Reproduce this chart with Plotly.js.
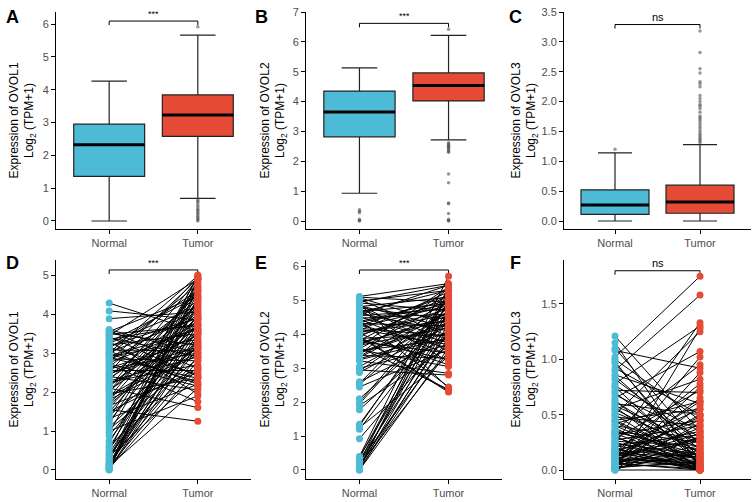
<!DOCTYPE html>
<html>
<head>
<meta charset="utf-8">
<script src="https://cdn.plot.ly/plotly-3.0.1.min.js"></script>
<style>html,body{margin:0;padding:0;background:#fff}#chart{width:753px;height:502px}</style>
</head>
<body>
<div id="chart"></div>
<script>
// ---------- data ----------
const categories = ["Normal", "Tumor"];
const genes = ["OVOL1", "OVOL2", "OVOL3"];
const panelLetters = ["A", "B", "C", "D", "E", "F"];
const sigLabels = ["***", "***", "ns"];

// box statistics [Normal, Tumor]
const boxQ1 = [[1.36, 2.58], [2.82, 4.02], [0.11, 0.13]];
const boxMedian = [[2.32, 3.23], [3.65, 4.54], [0.27, 0.32]];
const boxQ3 = [[2.95, 3.84], [4.35, 4.96], [0.52, 0.60]];
const boxLower = [[0.0, 0.69], [0.93, 2.72], [0.0, 0.0]];
const boxUpper = [[4.26, 5.66], [5.13, 6.22], [1.14, 1.28]];

// outliers
const outNormalA = [];
const outTumorA = [5.92, 0.65, 0.60, 0.55, 0.48, 0.42, 0.36, 0.32, 0.27, 0.22, 0.17, 0.12, 0.08, 0.04, 0.0];
const outNormalB = [0.38, 0.33, 0.28, 0.06, 0.02, 0.0];
const outTumorB = [6.42, 2.62, 2.58, 2.54, 2.50, 2.46, 2.42, 2.38, 2.33, 2.30, 1.57, 1.28, 0.60, 0.58, 0.25, 0.06, 0.02, 0.0];
const outNormalC = [1.20];
const outTumorC = [3.18, 2.82, 2.55, 2.48, 2.33, 2.30, 2.25, 2.10, 2.05, 2.00, 1.95, 1.92, 1.88, 1.82, 1.76, 1.73, 1.70, 1.66, 1.62, 1.58, 1.54, 1.50, 1.46, 1.43, 1.40, 1.37, 1.34, 1.31];

// paired data
const normD = [4.28,4.08,3.88,3.58,3.55,3.50,3.45,3.40,3.35,3.30,3.25,3.20,3.15,3.12,3.08,3.02,2.98,2.95,2.90,2.85,2.80,2.75,2.70,2.65,2.60,2.55,2.50,2.45,2.40,2.35,2.30,2.25,2.20,2.15,2.10,2.05,2.00,1.95,1.90,1.85,1.80,1.72,1.65,1.55,1.48,1.40,1.32,1.25,1.18,1.05,0.88,0.70,0.62,0.55,0.48,0.42,0.35,0.30,0.25,0.20,0.16,0.12,0.10,0.08,0.06,0.04,0.02,0.00,1.00,2.72,3.00,2.10,1.60,2.48,
  3.60,3.42,3.28,3.18,3.05,2.92,2.78,2.62,2.42,2.28,2.18,2.02,1.88,1.78,1.68,1.50,1.35,1.10,0.95,0.75,0.58,0.40,0.28,0.18,0.14,0.09,0.05,0.01,3.48,2.88];
const tumD  = [3.55,3.85,4.05,2.60,4.45,3.20,4.90,2.90,3.75,1.95,4.20,3.50,2.45,4.60,3.05,3.90,2.25,4.75,3.35,2.80,4.15,3.65,1.75,4.35,3.00,2.55,4.95,3.45,2.05,3.80,4.50,2.70,3.10,4.00,1.60,3.55,4.25,2.35,3.25,4.65,2.95,3.70,2.50,1.25,4.10,3.15,2.20,3.95,4.80,2.85,3.60,4.40,2.65,3.30,5.00,4.00,2.40,3.85,4.55,2.90,3.40,4.70,2.10,3.75,4.30,2.60,3.50,4.85,1.90,2.15,4.98,4.90,3.95,3.15,
  3.00,2.40,4.45,3.90,2.20,3.60,4.90,3.30,4.10,2.90,3.70,4.60,3.00,4.30,3.50,2.60,4.70,3.20,4.95,3.90,4.20,3.10,4.90,3.60,4.40,2.80,4.65,3.25,3.70,2.35];

const normE = [5.12,5.08,5.03,4.98,4.93,4.88,4.82,4.78,4.72,4.68,4.62,4.58,4.52,4.48,4.42,4.38,4.32,4.28,4.22,4.18,4.12,4.08,4.02,3.98,3.92,3.88,3.82,3.78,3.72,3.68,3.62,3.58,3.52,3.48,3.42,3.38,3.32,3.28,3.22,3.05,3.00,2.95,2.88,2.60,2.52,2.45,2.10,2.00,1.90,1.78,1.35,1.25,1.20,0.92,0.40,0.35,0.30,0.25,0.20,0.15,0.10,0.06,0.03,0.00,
  5.10,4.95,4.85,4.75,4.65,4.55,4.45,4.35,4.25,4.15,4.05,3.95,3.85,3.75,3.65,3.55,3.45,3.35,3.25,2.92,2.55,1.95,1.30,0.38,0.22,0.12,0.05,0.00,4.90,3.95];
const tumE  = [5.50,4.30,3.95,5.30,4.70,3.50,5.10,4.45,3.20,4.90,4.10,5.45,3.75,4.60,2.45,5.00,4.25,3.60,4.85,3.95,5.25,4.40,3.10,4.75,2.30,4.00,5.15,3.45,4.55,4.20,2.38,4.95,3.85,4.35,5.35,3.30,4.65,4.05,2.85,4.50,3.70,2.80,4.25,3.90,4.80,3.55,4.40,5.05,3.65,4.15,4.90,3.35,4.60,4.00,5.72,5.20,4.30,3.80,4.70,3.50,5.00,4.50,3.90,4.20,
  4.95,5.45,4.20,3.85,5.30,4.75,3.40,4.90,5.15,3.70,4.60,5.00,3.25,4.45,5.40,3.05,4.30,4.85,3.90,4.70,5.25,4.85,5.10,4.80,5.40,4.10,5.30,3.60,2.42,2.33];

const normF = [1.21,1.15,1.08,1.02,1.00,0.96,0.90,0.86,0.82,0.78,0.75,0.72,0.68,0.65,0.62,0.60,0.57,0.55,0.52,0.50,0.48,0.45,0.42,0.40,0.38,0.36,0.34,0.32,0.30,0.28,0.26,0.24,0.22,0.20,0.19,0.18,0.16,0.15,0.14,0.13,0.12,0.11,0.10,0.09,0.08,0.07,0.06,0.05,0.04,0.03,0.02,0.01,0.00,0.00,0.02,0.05,0.08,0.10,0.17,0.25,0.35,0.44,0.58,0.70,0.85,0.98,
  0.12,0.02,0.06,0.15,0.30,0.22,0.40,0.50,0.08,0.00,0.03,0.18,0.27,0.11,0.55,0.63,0.35,0.45,0.20,0.01,0.09,0.14,0.33,0.06,0.24,0.76,0.92,1.10,0.04,0.16];
const tumF  = [0.35,0.02,0.92,1.75,0.45,0.10,1.58,0.60,0.25,1.30,0.05,0.70,0.30,1.07,0.15,0.50,0.00,0.82,0.20,1.25,0.40,0.08,0.62,0.28,0.00,0.95,0.18,0.45,0.03,0.72,0.22,1.33,0.10,0.55,0.02,0.35,0.78,0.12,0.00,0.48,0.26,1.02,0.06,0.38,0.15,0.65,0.01,0.30,0.20,0.88,0.08,0.42,0.00,1.28,0.58,0.12,0.04,0.33,0.00,0.05,0.14,0.03,0.24,0.10,0.18,0.02,
  0.02,0.15,0.22,0.05,0.00,0.32,0.08,0.02,0.50,0.30,0.06,0.12,0.40,0.62,0.16,0.00,0.25,0.55,0.00,0.18,0.09,0.28,0.05,0.00,0.14,0.35,0.50,0.22,0.75,0.45];

// y axis settings per panel
const yRanges = [[-0.244, 6.366], [-0.268, 7.0], [-0.134, 3.5], [-0.231, 5.385], [-0.266, 6.196], [-0.081, 1.897]];
const yTicks = [[0,1,2,3,4,5,6], [0,1,2,3,4,5,6,7], [0,0.5,1,1.5,2,2.5,3,3.5], [0,1,2,3,4,5], [0,1,2,3,4,5,6], [0,0.5,1,1.5]];
const yFormats = ["d", "d", ".1f", "d", "d", ".1f"];
const bracketLevels = [6.09, 6.62, 3.29, 5.13, 5.90, 1.80];

// ---------- layout geometry (pixels) ----------
const W = 753, H = 502;
const colX = [[56, 251], [306, 502], [564, 751]];
const rowY = [[12, 229], [260, 479]];
const titleX = [22, 273, 524];
const letterX = [13, 261, 515];
const letterY = [17, 263];
const blue = "#4DBBD5", red = "#E64B35";
const fills = [blue, red];
const xs = [1, 2];

const traces = [];
const layout = {
  width: W, height: H,
  margin: {l: 0, r: 0, t: 0, b: 0},
  paper_bgcolor: "#fff", plot_bgcolor: "#fff",
  showlegend: false,
  font: {family: "Liberation Sans, Arial, sans-serif", color: "#000"},
  annotations: [], shapes: [], boxmode: "overlay"
};

for (let p = 0; p < 6; p++) {
  const r = Math.floor(p / 3), c = p % 3;
  const n = p + 1;
  const xk = n === 1 ? "xaxis" : "xaxis" + n;
  const yk = n === 1 ? "yaxis" : "yaxis" + n;
  const xr = n === 1 ? "x" : "x" + n;
  const yr = n === 1 ? "y" : "y" + n;
  layout[xk] = {
    domain: [colX[c][0] / W, colX[c][1] / W], anchor: yr,
    range: [0.4, 2.6], tickvals: xs, ticktext: categories,
    showline: true, linecolor: "#000", linewidth: 1, mirror: false,
    ticks: "outside", ticklen: 4, tickcolor: "#000", tickwidth: 1,
    tickfont: {size: 11, color: "#4d4d4d"}, showgrid: false, zeroline: false, fixedrange: true
  };
  layout[yk] = {
    domain: [1 - rowY[r][1] / H, 1 - rowY[r][0] / H], anchor: xr,
    range: yRanges[p], tickvals: yTicks[p], tickformat: yFormats[p],
    showline: true, linecolor: "#000", linewidth: 1,
    ticks: "outside", ticklen: 4, tickcolor: "#000", tickwidth: 1,
    tickfont: {size: 11, color: "#4d4d4d"}, showgrid: false, zeroline: false, fixedrange: true
  };
  layout.annotations.push({
    xref: "paper", yref: "paper", x: titleX[c] / W, y: 1 - (rowY[r][0] + rowY[r][1]) / 2 / H,
    text: "Expression of " + genes[c] + "<br>Log<sub>2</sub> (TPM+1)", textangle: -90,
    showarrow: false, font: {size: 12, color: "#000"}, xanchor: "center", yanchor: "middle"
  });
  layout.annotations.push({
    xref: "paper", yref: "paper", x: letterX[c] / W, y: 1 - letterY[r] / H,
    text: "<b>" + panelLetters[p] + "</b>", showarrow: false,
    font: {size: 18, color: "#000"}, xanchor: "center", yanchor: "middle"
  });
  const span = yRanges[p][1] - yRanges[p][0];
  const tickD = span * 4 / (rowY[r][1] - rowY[r][0]);
  const b = bracketLevels[p];
  traces.push({
    type: "scatter", mode: "lines", xaxis: xr, yaxis: yr, hoverinfo: "skip",
    x: [xs[0], xs[0], xs[1], xs[1]], y: [b - tickD, b, b, b - tickD],
    line: {color: "#000", width: 1}
  });
  layout.annotations.push({
    xref: xr, yref: yr, x: (xs[0] + xs[1]) / 2, y: b,
    text: sigLabels[c], showarrow: false, xanchor: "center", yanchor: "bottom",
    font: {size: sigLabels[c] === "ns" ? 11 : 9, color: "#000"}
  });
}

// ---------- box plots (top row) ----------
const outNormal = [outNormalA, outNormalB, outNormalC];
const outTumor = [outTumorA, outTumorB, outTumorC];
for (let g = 0; g < 3; g++) {
  const n = g + 1;
  const xr = n === 1 ? "x" : "x" + n;
  const yr = n === 1 ? "y" : "y" + n;
  for (let k = 0; k < 2; k++) {
    traces.push({
      type: "box", xaxis: xr, yaxis: yr, x: [xs[k]],
      q1: [boxQ1[g][k]], median: [boxMedian[g][k]], q3: [boxQ3[g][k]],
      lowerfence: [boxLower[g][k]], upperfence: [boxUpper[g][k]],
      width: 0.8, fillcolor: fills[k], line: {color: "#222", width: 1.2},
      boxpoints: false, hoverinfo: "skip"
    });
    traces.push({
      type: "scatter", mode: "lines", xaxis: xr, yaxis: yr, hoverinfo: "skip",
      x: [xs[k] - 0.4, xs[k] + 0.4], y: [boxMedian[g][k], boxMedian[g][k]],
      line: {color: "#000", width: 3}
    });
  }
  const outs = [outNormal[g], outTumor[g]];
  for (let k = 0; k < 2; k++) {
    if (!outs[k].length) continue;
    traces.push({
      type: "scatter", mode: "markers", xaxis: xr, yaxis: yr, hoverinfo: "skip",
      x: outs[k].map(() => xs[k]), y: outs[k],
      marker: {color: "#444", size: 3.5, opacity: 0.55}
    });
  }
}

// ---------- paired plots (bottom row) ----------
const pairedN = [normD, normE, normF];
const pairedT = [tumD, tumE, tumF];
for (let g = 0; g < 3; g++) {
  const n = g + 4;
  const xr = "x" + n, yr = "y" + n;
  const lx = [], ly = [];
  for (let i = 0; i < pairedN[g].length; i++) {
    lx.push(xs[0], xs[1], null);
    ly.push(pairedN[g][i], pairedT[g][i], null);
  }
  traces.push({
    type: "scatter", mode: "lines", xaxis: xr, yaxis: yr, hoverinfo: "skip",
    x: lx, y: ly, line: {color: "#000", width: 1}, connectgaps: false
  });
  traces.push({
    type: "scatter", mode: "markers", xaxis: xr, yaxis: yr, hoverinfo: "skip",
    x: pairedN[g].map(() => xs[0]), y: pairedN[g], marker: {color: blue, size: 7}
  });
  traces.push({
    type: "scatter", mode: "markers", xaxis: xr, yaxis: yr, hoverinfo: "skip",
    x: pairedT[g].map(() => xs[1]), y: pairedT[g], marker: {color: red, size: 7}
  });
}

Plotly.newPlot("chart", traces, layout, {displayModeBar: false, staticPlot: true});
</script>
</body>
</html>
